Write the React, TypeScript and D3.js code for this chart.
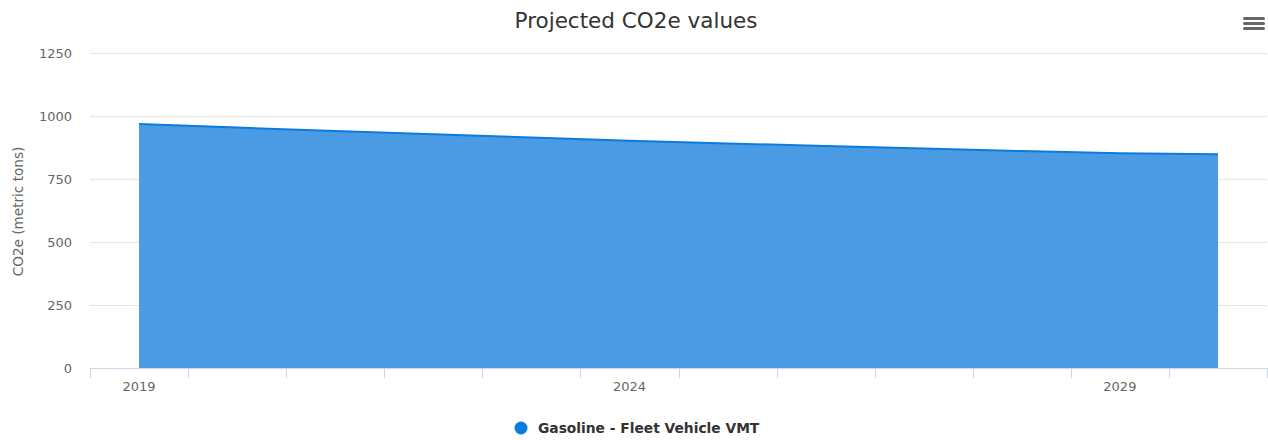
import React from 'react'
import * as d3 from 'd3'

const years = [2019, 2020, 2021, 2022, 2023, 2024, 2025, 2026, 2027, 2028, 2029, 2030]
const co2e = [968, 954, 940, 928, 915, 902, 891, 881, 871, 861, 852, 848]
const yTicks = [0, 250, 500, 750, 1000, 1250]
const labelYears = [2019, 2024, 2029]
const seriesName = 'Gasoline - Fleet Vehicle VMT'

const W = 1268
const H = 440
const FONT = '"DejaVu Sans", Verdana, sans-serif'

export default function App() {
  const left = 90
  const right = 1267
  const top = 53
  const bottom = 368

  // category axis, points sit in the middle of each slot
  const x = d3.scaleLinear()
    .domain([-0.5, years.length - 0.5])
    .range([left, right])
  const y = d3.scaleLinear().domain([0, 1250]).range([bottom, top])

  const pts = years.map((yr, i) => ({ i, v: co2e[i] }))
  const area = d3.area<any>()
    .x(d => x(d.i))
    .y0(y(0))
    .y1(d => y(d.v))
  const line = d3.line<any>()
    .x(d => x(d.i))
    .y(d => y(d.v))

  const tickPos = d3.range(years.length + 1).map(k => x(k - 0.5))

  return (
    <svg width={W} height={H} style={{ position: 'absolute', left: 0, top: 0, background: '#fff' }} fontFamily={FONT}>
      <text x={636} y={28} textAnchor="middle" fontSize={21.5} fill="#333">Projected CO2e values</text>

      {/* menu */}
      <g fill="#666">
        {[0, 1, 2].map(k => (
          <rect key={k} x={1243} y={17 + k * 5} width={22} height={3} rx={1.5} />
        ))}
      </g>

      {/* grid */}
      {yTicks.map(t => (
        <g key={t}>
          {t > 0 && <line x1={left} x2={right} y1={y(t) + 0.5} y2={y(t) + 0.5} stroke="#e6e6e6" />}
          <text x={72} y={y(t) + 4.5} textAnchor="end" fontSize={13} fill="#666">{t}</text>
        </g>
      ))}

      <text transform={`translate(23, ${(top + bottom) / 2 + 1}) rotate(-90)`} textAnchor="middle" fontSize={13.6} fill="#666">CO2e (metric tons)</text>

      {/* series */}
      <path d={area(pts) || ''} fill="#4a9be3" />
      <path d={line(pts) || ''} fill="none" stroke="#0b7bdc" strokeWidth={2} />

      {/* x axis */}
      <line x1={left} x2={right} y1={bottom + 0.5} y2={bottom + 0.5} stroke="#ccd6eb" />
      {tickPos.map((p, k) => (
        <line key={k} x1={Math.round(p) + 0.5} x2={Math.round(p) + 0.5} y1={bottom} y2={bottom + 10} stroke="#ccd6eb" />
      ))}
      {labelYears.map(yr => (
        <text key={yr} x={x(years.indexOf(yr))} y={391} textAnchor="middle" fontSize={13} fill="#666">{yr}</text>
      ))}

      {/* legend */}
      <circle cx={521} cy={428} r={6.5} fill="#0b7bdc" />
      <text x={538} y={433} fontSize={13.8} fontWeight="bold" fill="#333">{seriesName}</text>
    </svg>
  )
}
